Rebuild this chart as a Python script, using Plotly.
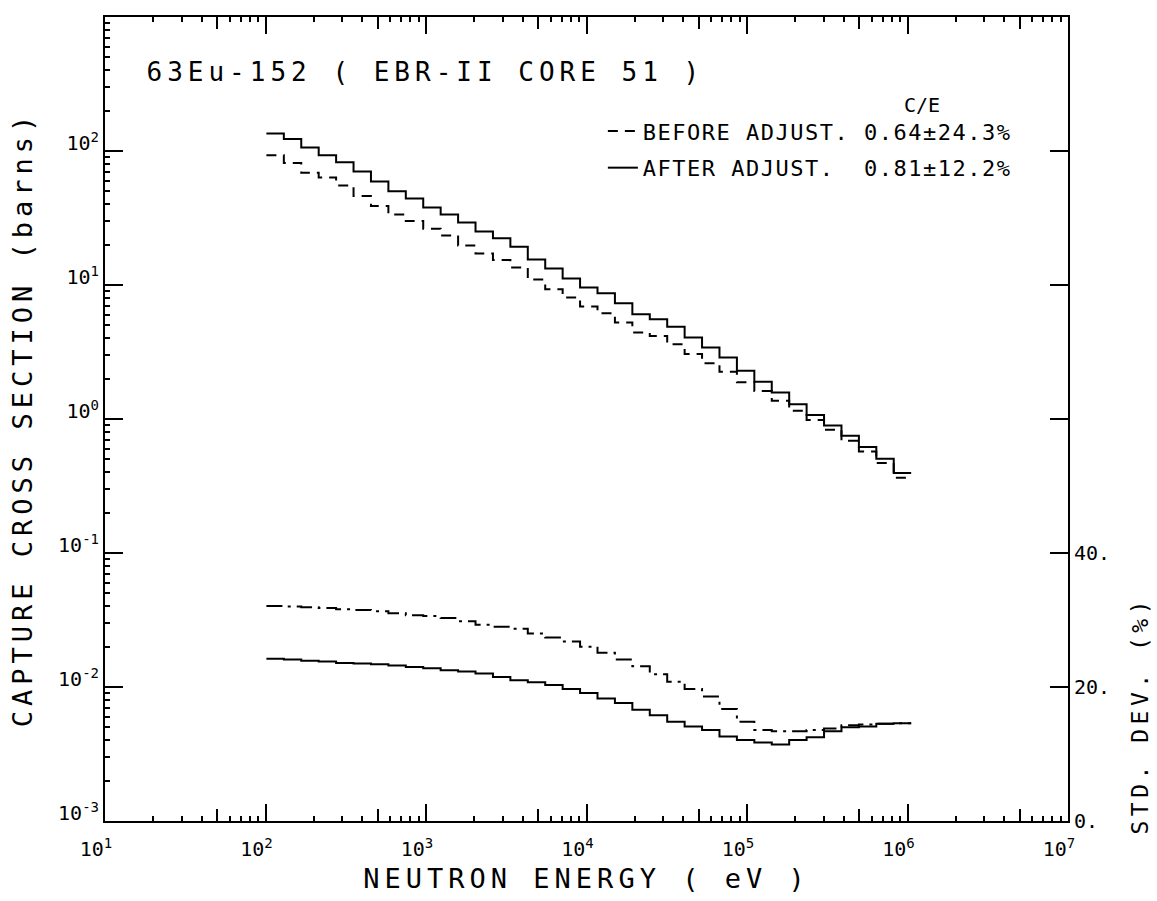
import plotly.graph_objects as go

# ---------------- data ----------------
# group boundaries in eV (0.25-lethargy groups, 101.3 eV .. 1.054 MeV)
energy_edges = [101.3, 130.1, 167.0, 214.5, 275.4, 353.6, 454.0, 583.0, 748.5, 961.1,
                1234, 1585, 2035, 2613, 3355, 4307, 5531, 7102, 9119, 11709,
                15034, 19305, 24788, 31828, 40868, 52475, 67379, 86517, 111090, 142642,
                183156, 235177, 301974, 387742, 497871, 639279, 820850, 1053992]

# capture cross section (barns), one value per group
xs_before = [92.9, 81.5, 68.7, 63.4, 55.3, 46.1, 38.9, 33.6, 30.0, 26.3,
             23.4, 19.75, 17.2, 15.35, 13.5, 11.0, 9.29, 8.06, 6.91, 6.16,
             5.25, 4.42, 4.17, 3.62, 3.05, 2.61, 2.25, 1.88, 1.62, 1.37,
             1.15, 0.983, 0.832, 0.689, 0.571, 0.470, 0.364]
xs_after = [134.8, 123.1, 106.0, 92.9, 82.4, 70.2, 59.2, 50.1, 44.2, 37.9,
            33.6, 29.3, 25.1, 22.3, 19.3, 15.5, 13.25, 11.16, 9.56, 8.68,
            7.31, 6.05, 5.55, 4.87, 4.06, 3.42, 2.88, 2.29, 1.90, 1.58,
            1.29, 1.07, 0.895, 0.751, 0.619, 0.504, 0.396]

# standard deviation (%), one value per group
sd_before = [32.1, 32.0, 31.9, 31.8, 31.6, 31.5, 31.3, 31.0, 30.7, 30.6,
             30.3, 29.8, 29.3, 29.0, 28.7, 28.0, 27.4, 26.8, 26.0, 25.1,
             24.1, 23.1, 21.9, 20.8, 19.7, 18.6, 16.7, 14.8, 13.6, 13.4,
             13.4, 13.6, 13.8, 14.3, 14.4, 14.5, 14.6]
sd_after = [24.2, 24.1, 23.9, 23.8, 23.6, 23.5, 23.4, 23.2, 23.0, 22.8,
            22.5, 22.3, 22.0, 21.5, 21.0, 20.7, 20.3, 19.7, 19.1, 18.3,
            17.6, 16.6, 15.8, 14.8, 14.1, 13.6, 12.6, 12.1, 11.7, 11.4,
            12.1, 12.5, 13.4, 14.0, 14.1, 14.5, 14.6]

label_before = "BEFORE ADJUST. 0.64±24.3%"
label_after = "AFTER ADJUST.\u00a0\u00a00.81±12.2%"
title_text = "63Eu-152 ( EBR-II CORE 51 )"

x_decades = [1e1, 1e2, 1e3, 1e4, 1e5, 1e6, 1e7]
x_ticktext = ["10<sup>1</sup>", "10<sup>2</sup>", "10<sup>3</sup>", "10<sup>4</sup>",
              "10<sup>5</sup>", "10<sup>6</sup>", "10<sup>7</sup>"]
y_decades = [1e-3, 1e-2, 1e-1, 1e0, 1e1, 1e2, 1e3]
y_ticktext = ["10<sup>-3</sup>", "10<sup>-2</sup>", "10<sup>-1</sup>", "10<sup>0</sup>",
              "10<sup>1</sup>", "10<sup>2</sup>", "10<sup>3</sup>"]
x_fives = [5e1, 5e2, 5e3, 5e4, 5e5, 5e6]
y_fives = [5e-3, 5e-2, 5e-1, 5e0, 5e1, 5e2]
sd_ticks = [0, 20, 40]
sd_ticktext = ["0.", "20.", "40."]
sd_unlabeled = [60, 80, 100, 120]

FONT = "DejaVu Sans Mono"
BLK = "black"


def stairs(vals):
    return list(vals) + [vals[-1]]


fig = go.Figure()
fig.add_trace(go.Scatter(x=energy_edges, y=stairs(xs_before), mode="lines", line_shape="hv",
                         line=dict(color=BLK, width=2, dash="10px,7px"),
                         name=label_before, legendgroup="b"))
fig.add_trace(go.Scatter(x=energy_edges, y=stairs(xs_after), mode="lines", line_shape="hv",
                         line=dict(color=BLK, width=2),
                         name=label_after, legendgroup="a"))
fig.add_trace(go.Scatter(x=energy_edges, y=stairs(sd_before), mode="lines", line_shape="hv",
                         line=dict(color=BLK, width=2, dash="16px,6px,3px,6px"),
                         xaxis="x3", yaxis="y2", showlegend=False))
fig.add_trace(go.Scatter(x=energy_edges, y=stairs(sd_after), mode="lines", line_shape="hv",
                         line=dict(color=BLK, width=2),
                         xaxis="x3", yaxis="y2", showlegend=False))

common = dict(showgrid=False, zeroline=False, color=BLK)

fig.update_layout(
    width=1157, height=901,
    margin=dict(l=105, r=89, t=17, b=78),
    paper_bgcolor="white", plot_bgcolor="white",
    font=dict(family=FONT, color=BLK, size=20),
    xaxis=dict(type="log", range=[1, 7], tickvals=x_decades, ticktext=x_ticktext,
               ticks="inside", ticklen=17, tickwidth=2, tickcolor=BLK,
               showline=True, linewidth=2, linecolor=BLK, mirror="allticks",
               minor=dict(ticks="inside", ticklen=5, tickwidth=1.5, tickcolor=BLK, dtick="D1"),
               tickfont=dict(family=FONT, size=20), ticklabelshift=-9, ticklabelstandoff=9,
               title=dict(text="NEUTRON ENERGY ( eV )", font=dict(family=FONT, size=27), standoff=9),
               **common),
    xaxis3=dict(type="log", range=[1, 7], overlaying="x", anchor="y", tickvals=x_fives,
                ticks="inside", ticklen=12, tickwidth=1.5, tickcolor=BLK, mirror="allticks",
                showticklabels=False, showline=False, **common),
    yaxis=dict(type="log", range=[-3, 3], tickvals=y_decades, ticktext=y_ticktext,
               ticks="inside", ticklen=18, tickwidth=2, tickcolor=BLK,
               showline=True, linewidth=2, linecolor=BLK, mirror=False,
               minor=dict(ticks="inside", ticklen=5, tickwidth=1.5, tickcolor=BLK, dtick="D1"),
               tickfont=dict(family=FONT, size=20), ticklabelshift=-8,
               title=dict(text="CAPTURE CROSS SECTION (barns)", font=dict(family=FONT, size=27), standoff=18),
               **common),
    yaxis3=dict(type="log", range=[-3, 3], overlaying="y", anchor="x", tickvals=y_fives,
                ticks="inside", ticklen=13, tickwidth=1.5, tickcolor=BLK,
                showticklabels=False, showline=False, **common),
    yaxis2=dict(range=[0, 120], overlaying="y", side="right", anchor="x3",
                tickvals=sd_ticks, ticktext=sd_ticktext,
                ticks="inside", ticklen=18, tickwidth=2, tickcolor=BLK,
                minor=dict(tickvals=sd_unlabeled, ticks="inside", ticklen=18, tickwidth=2, tickcolor=BLK),
                showline=True, linewidth=2, linecolor=BLK,
                tickfont=dict(family=FONT, size=20), **common),
    showlegend=True,
    legend=dict(x=0.517, y=0.884, xanchor="left", yanchor="top",
                bgcolor="rgba(0,0,0,0)", borderwidth=0,
                traceorder="grouped", tracegroupgap=5,
                font=dict(family=FONT, size=22, color=BLK)),
    annotations=[
        dict(text=title_text, xref="paper", yref="paper",
             x=(425.5 - 105) / 963, y=(823 - 72) / 806, xanchor="center", yanchor="middle",
             showarrow=False, font=dict(family=FONT, size=26, color=BLK)),
        dict(text="C/E", xref="paper", yref="paper",
             x=(922 - 105) / 963, y=(823 - 105) / 806, xanchor="center", yanchor="middle",
             showarrow=False, font=dict(family=FONT, size=20, color=BLK)),
        dict(text="STD. DEV. (%)", xref="paper", yref="paper", textangle=-90,
             x=(1140 - 105) / 963, y=(823 - 717) / 806, xanchor="center", yanchor="middle",
             showarrow=False, font=dict(family=FONT, size=23, color=BLK)),
    ],
)

post = """
var gd = document.querySelector('.js-plotly-plot');
function sp(sel, v){ gd.querySelectorAll(sel).forEach(function(e){ e.style.letterSpacing = v; }); }
sp('text.xtitle', '5px');
sp('text.ytitle', '5px');
sp('text.legendtext', '1.5px');
gd.querySelectorAll('.legend .scrollbox, .legend [clip-path]').forEach(function(e){ e.removeAttribute('clip-path'); });
sp('.annotation[data-index="0"] text', '5px');
sp('.annotation[data-index="2"] text', '4.5px');
"""

fig.write_html("out.html", post_script=post)
